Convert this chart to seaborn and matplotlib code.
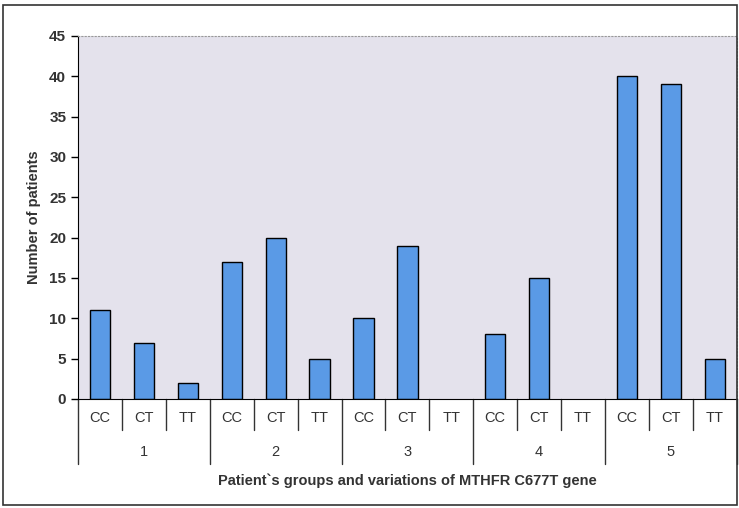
import seaborn as sns
import matplotlib.pyplot as plt
import matplotlib.transforms as mtransforms
from matplotlib.patches import Rectangle
import pandas as pd

groups = ["1", "2", "3", "4", "5"]
genotypes = ["CC", "CT", "TT"]
counts = [11, 7, 2,
          17, 20, 5,
          10, 19, 0,
          8, 15, 0,
          40, 39, 5]

slot = [g + "-" + t for g in groups for t in genotypes]
df = pd.DataFrame({"slot": slot, "count": counts})

sns.set_style("ticks")
plt.rcParams["font.family"] = ["Liberation Sans", "DejaVu Sans"]

fig = plt.figure(figsize=(7.39, 5.08), dpi=100)
ax = fig.add_axes([0.1056, 0.2146, 0.8914, 0.7146])
ax.set_facecolor("#e4e2ec")

sns.barplot(x="slot", y="count", data=df, ax=ax, color="#5a9ae6",
            edgecolor="black", linewidth=1.0, width=0.46, saturation=1)
# no outline for empty bars
for p in ax.patches:
    if p.get_height() == 0:
        p.set_linewidth(0)

ax.set_ylim(0, 45)
ax.set_yticks(range(0, 46, 5))
ax.set_xlim(-0.5, len(slot) - 0.5)
ax.tick_params(axis="y", direction="out", length=5, width=1, labelsize=11,
               colors="black")
for lab in ax.get_yticklabels():
    lab.set_fontweight("bold")
    lab.set_color("#333333")
ax.set_xticks([])
ax.set_xlabel("")
ax.set_ylabel("Number of patients", fontsize=10.5, fontweight="bold",
              color="#333333", labelpad=6)

ax.spines["left"].set_color("black")
ax.spines["bottom"].set_color("black")
ax.spines["top"].set_linestyle((0, (1, 2)))
ax.spines["top"].set_color("#999999")
ax.spines["right"].set_linestyle((0, (1, 2)))
ax.spines["right"].set_color("#999999")

trans = mtransforms.blended_transform_factory(ax.transData, ax.transAxes)
for i in range(len(slot) + 1):
    x = i - 0.5
    depth = -0.18 if i % 3 == 0 else -0.085
    ax.plot([x, x], [0, depth], transform=trans, color="#333333", lw=1,
            clip_on=False)
for i, s in enumerate(slot):
    ax.text(i, -0.052, genotypes[i % 3], transform=trans, ha="center",
            va="center", fontsize=10.5, color="#333333")
for j, g in enumerate(groups):
    ax.text(j * 3 + 1, -0.146, g, transform=trans, ha="center", va="center",
            fontsize=10.5, color="#333333")
ax.text(0.5, -0.226, "Patient`s groups and variations of MTHFR C677T gene",
        transform=ax.transAxes, ha="center", va="center", fontsize=10.5,
        fontweight="bold", color="#333333")

fig.add_artist(Rectangle((0.004, 0.006), 0.993, 0.985, transform=fig.transFigure,
                         fill=False, edgecolor="#333333", lw=1.2))

fig.savefig("out.png", dpi=100)
